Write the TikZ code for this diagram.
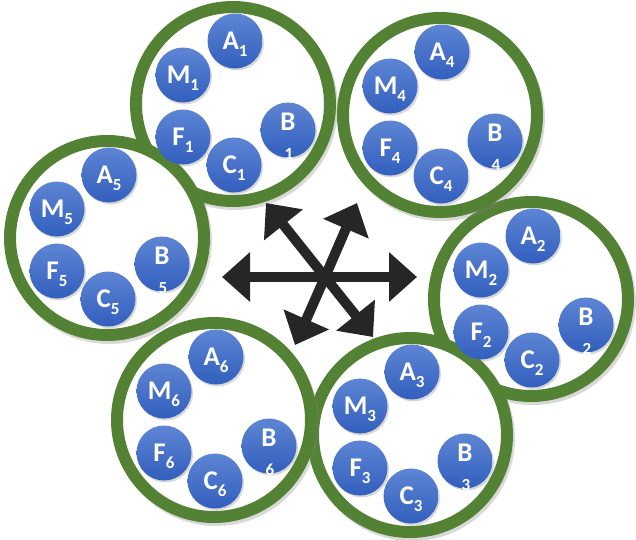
\documentclass[tikz,border=0pt]{standalone}
\usepackage{fontspec}
\setmainfont{Carlito}
\usetikzlibrary{arrows.meta, shadows}
\definecolor{ringgreen}{RGB}{84,130,53}
\definecolor{balltop}{RGB}{94,133,212}
\definecolor{ballbot}{RGB}{50,95,190}
\definecolor{hubgray}{RGB}{38,38,38}
\newcommand{\ballsub}[2]{#1\smash{\raisebox{-7pt}{\fontsize{17}{17}\selectfont #2}}}
\newcommand{\ballB}[1]{\smash{\makebox[0pt]{B}\makebox[0pt]{\hspace{2pt}\raisebox{-29pt}{\fontsize{17}{17}\selectfont #1}}}}

\begin{document}
\begin{tikzpicture}[
  x=1pt, y=-1pt,
  grp/.style={circle, draw=ringgreen, line width=12pt, fill=white, minimum size=194pt, inner sep=0pt,
    drop shadow={shadow xshift=2pt, shadow yshift=-3pt, shadow scale=1.06, opacity=.3}},
  ball/.style={circle, top color=balltop, bottom color=ballbot, minimum size=55pt, inner sep=0pt,
    text=white, font=\bfseries\fontsize{27}{27}\selectfont,
    drop shadow={shadow xshift=1.5pt, shadow yshift=-2pt, opacity=.3}},
  spoke/.style={hubgray, line width=10pt, -{Triangle[width=48pt, length=28pt]}}
]
\useasboundingbox (0,0) rectangle (636,539);

% ---- rings ----
\node[grp] (grp2) at (531,299) {};
\node[grp] (grp1) at (233,104) {};
\node[grp] (grp4) at (440,115) {};
\node[grp] (grp3) at (410,435) {};
\node[grp] (grp5) at (107,238) {};
\node[grp] (grp6) at (214,420) {};

% ---- group 1 ----
\node[ball] (a1) at ([shift={(2,-63)}]grp1) {\ballsub{A}{1}};
\node[ball] (m1) at ([shift={(-50,-29)}]grp1) {\ballsub{M}{1}};
\node[ball] (f1) at ([shift={(-50,33)}]grp1) {\ballsub{F}{1}};
\node[ball] (c1) at ([shift={(1,61)}]grp1) {\ballsub{C}{1}};
\node[ball] (b1) at ([shift={(55,26)}]grp1) {\ballB{1}};

% ---- group 2 ----
\node[ball] (a2) at ([shift={(2,-63)}]grp2) {\ballsub{A}{2}};
\node[ball] (m2) at ([shift={(-50,-29)}]grp2) {\ballsub{M}{2}};
\node[ball] (f2) at ([shift={(-50,33)}]grp2) {\ballsub{F}{2}};
\node[ball] (c2) at ([shift={(1,61)}]grp2) {\ballsub{C}{2}};
\node[ball] (b2) at ([shift={(55,26)}]grp2) {\ballB{2}};

% ---- group 3 ----
\node[ball] (a3) at ([shift={(2,-63)}]grp3) {\ballsub{A}{3}};
\node[ball] (m3) at ([shift={(-50,-29)}]grp3) {\ballsub{M}{3}};
\node[ball] (f3) at ([shift={(-50,33)}]grp3) {\ballsub{F}{3}};
\node[ball] (c3) at ([shift={(1,61)}]grp3) {\ballsub{C}{3}};
\node[ball] (b3) at ([shift={(55,26)}]grp3) {\ballB{3}};

% ---- group 4 ----
\node[ball] (a4) at ([shift={(2,-63)}]grp4) {\ballsub{A}{4}};
\node[ball] (m4) at ([shift={(-50,-29)}]grp4) {\ballsub{M}{4}};
\node[ball] (f4) at ([shift={(-50,33)}]grp4) {\ballsub{F}{4}};
\node[ball] (c4) at ([shift={(1,61)}]grp4) {\ballsub{C}{4}};
\node[ball] (b4) at ([shift={(55,26)}]grp4) {\ballB{4}};

% ---- group 5 ----
\node[ball] (a5) at ([shift={(2,-63)}]grp5) {\ballsub{A}{5}};
\node[ball] (m5) at ([shift={(-50,-29)}]grp5) {\ballsub{M}{5}};
\node[ball] (f5) at ([shift={(-50,33)}]grp5) {\ballsub{F}{5}};
\node[ball] (c5) at ([shift={(1,61)}]grp5) {\ballsub{C}{5}};
\node[ball] (b5) at ([shift={(55,26)}]grp5) {\ballB{5}};

% ---- group 6 ----
\node[ball] (a6) at ([shift={(2,-63)}]grp6) {\ballsub{A}{6}};
\node[ball] (m6) at ([shift={(-50,-29)}]grp6) {\ballsub{M}{6}};
\node[ball] (f6) at ([shift={(-50,33)}]grp6) {\ballsub{F}{6}};
\node[ball] (c6) at ([shift={(1,61)}]grp6) {\ballsub{C}{6}};
\node[ball] (b6) at ([shift={(55,26)}]grp6) {\ballB{6}};

% ---- arrow star in the middle ----
\coordinate (hub) at (325,277);
\coordinate (tipW) at (222,277);
\coordinate (tipE) at (417,277);
\coordinate (tipNW) at (266,203);
\coordinate (tipNE) at (357,203);
\coordinate (tipSW) at (295,345);
\coordinate (tipSE) at (373,337);
\draw[spoke] (hub) -- (tipW);
\draw[spoke] (hub) -- (tipE);
\draw[spoke] (hub) -- (tipNW);
\draw[spoke] (hub) -- (tipNE);
\draw[spoke] (hub) -- (tipSW);
\draw[spoke] (hub) -- (tipSE);
\end{tikzpicture}
\end{document}
